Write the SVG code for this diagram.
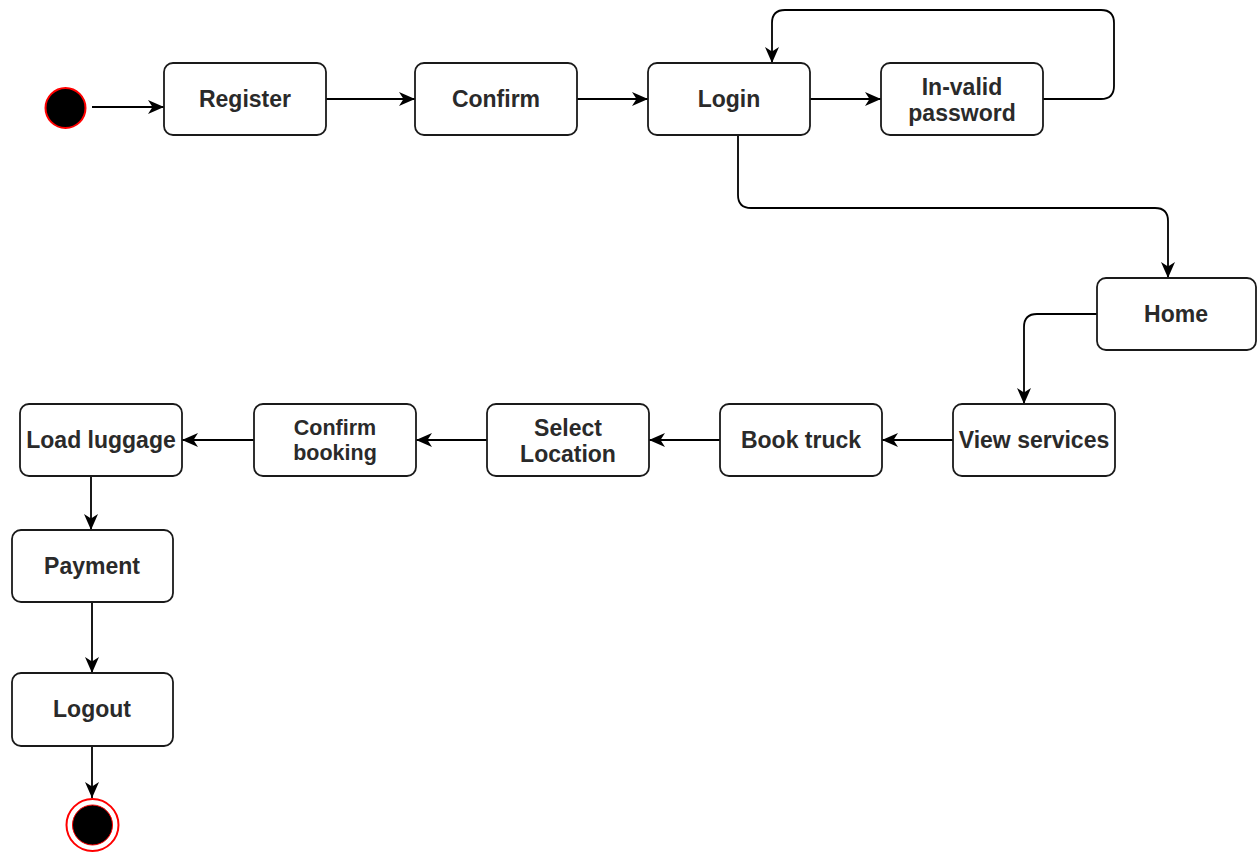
<svg xmlns="http://www.w3.org/2000/svg" width="1257" height="852" viewBox="0 0 1257 852">
  <style>
    .box { fill: #ffffff; stroke: #1a1a1a; stroke-width: 1.8; }
    .lbl { font-family: "Liberation Sans", Arial, sans-serif; font-weight: bold; font-size: 23px; fill: #2a2a2a; text-anchor: middle; dominant-baseline: central; }
    .sm { font-size: 21.5px; }
    .edge { fill: none; stroke: #000000; stroke-width: 1.8; marker-end: url(#arrow); }
  </style>
  <defs>
    <marker id="arrow" markerUnits="userSpaceOnUse" markerWidth="18" markerHeight="16" viewBox="0 0 18 16" refX="17" refY="8" orient="auto">
      <path d="M1,1 L17,8 L1,15 L5.5,8 Z" fill="#000000"/>
    </marker>
  </defs>
  <rect width="1257" height="852" fill="#ffffff"/>

  <!-- connectors -->
  <g id="connectors">
    <path class="edge" d="M92,107 H164"/>
    <path class="edge" d="M326,99 H415"/>
    <path class="edge" d="M577,99 H648"/>
    <path class="edge" d="M810,99 H881"/>
    <path class="edge" d="M1043,99 H1101 Q1114,99 1114,86 V23 Q1114,10 1101,10 H785 Q772,10 772,23 V63"/>
    <path class="edge" d="M738,135 V195 Q738,208 751,208 H1155 Q1168,208 1168,221 V278"/>
    <path class="edge" d="M1097,314 H1037 Q1024,314 1024,327 V404"/>
    <path class="edge" d="M953,440 H882"/>
    <path class="edge" d="M720,440 H649"/>
    <path class="edge" d="M487,440 H416"/>
    <path class="edge" d="M254,440 H182"/>
    <path class="edge" d="M91,476 V530"/>
    <path class="edge" d="M92,602 V673"/>
    <path class="edge" d="M92,746 V798"/>
  </g>

  <!-- start state -->
  <g id="start">
    <circle cx="65.5" cy="108" r="20" fill="#000000" stroke="#ff0000" stroke-width="2"/>
  </g>

  <g id="register">
    <rect class="box" x="164" y="63" width="162" height="72" rx="9"/>
    <text class="lbl" x="245" y="99">Register</text>
  </g>
  <g id="confirm">
    <rect class="box" x="415" y="63" width="162" height="72" rx="9"/>
    <text class="lbl" x="496" y="99">Confirm</text>
  </g>
  <g id="login">
    <rect class="box" x="648" y="63" width="162" height="72" rx="9"/>
    <text class="lbl" x="729" y="99">Login</text>
  </g>
  <g id="invalid-password">
    <rect class="box" x="881" y="63" width="162" height="72" rx="9"/>
    <text class="lbl" x="962" y="87">In-valid</text>
    <text class="lbl" x="962" y="113">password</text>
  </g>
  <g id="home">
    <rect class="box" x="1097" y="278" width="159" height="72" rx="9"/>
    <text class="lbl" x="1176" y="314">Home</text>
  </g>
  <g id="view-services">
    <rect class="box" x="953" y="404" width="162" height="72" rx="9"/>
    <text class="lbl" x="1034" y="440">View services</text>
  </g>
  <g id="book-truck">
    <rect class="box" x="720" y="404" width="162" height="72" rx="9"/>
    <text class="lbl" x="801" y="440">Book truck</text>
  </g>
  <g id="select-location">
    <rect class="box" x="487" y="404" width="162" height="72" rx="9"/>
    <text class="lbl" x="568" y="428">Select</text>
    <text class="lbl" x="568" y="454">Location</text>
  </g>
  <g id="confirm-booking">
    <rect class="box" x="254" y="404" width="162" height="72" rx="9"/>
    <text class="lbl sm" x="335" y="428">Confirm</text>
    <text class="lbl sm" x="335" y="453">booking</text>
  </g>
  <g id="load-luggage">
    <rect class="box" x="20" y="404" width="162" height="72" rx="9"/>
    <text class="lbl" x="101" y="440">Load luggage</text>
  </g>
  <g id="payment">
    <rect class="box" x="12" y="530" width="161" height="72" rx="9"/>
    <text class="lbl" x="92" y="566">Payment</text>
  </g>
  <g id="logout">
    <rect class="box" x="12" y="673" width="161" height="73" rx="9"/>
    <text class="lbl" x="92" y="709">Logout</text>
  </g>

  <!-- final state -->
  <g id="end">
    <circle cx="92.5" cy="825" r="26" fill="#ffffff" stroke="#ff0000" stroke-width="2"/>
    <circle cx="92.5" cy="825" r="20" fill="#000000" stroke="#ff0000" stroke-width="1"/>
  </g>
</svg>
